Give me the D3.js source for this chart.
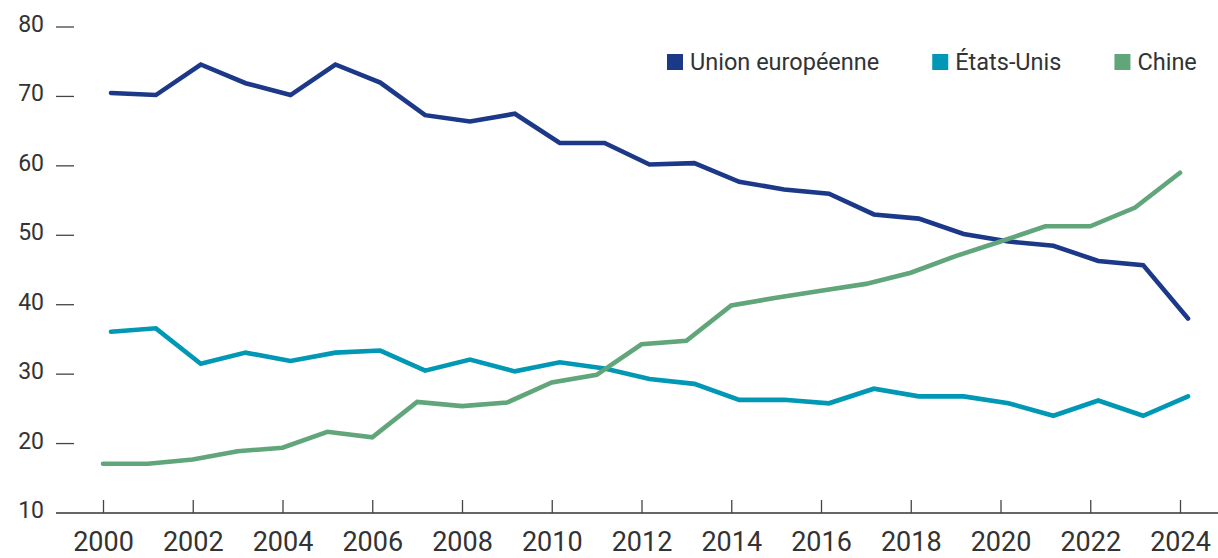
<!DOCTYPE html>
<meta charset='utf-8'>
<title>Parts de marché</title>
<style>
  body {
    margin: 0;
    background: #fff;
    font-family: Roboto, 'Noto Sans', Arial, sans-serif;
  }
  svg { display: block; }
  .line { fill: none; stroke-width: 4.6px; stroke-linejoin: miter; stroke-linecap: round; }
  .tick-label { fill: #333; }
</style>
<body>
<script src='https://cdn.jsdelivr.net/npm/d3@7'></script>
<script>

  var years = [2000, 2001, 2002, 2003, 2004, 2005, 2006, 2007, 2008, 2009, 2010, 2011, 2012,
               2013, 2014, 2015, 2016, 2017, 2018, 2019, 2020, 2021, 2022, 2023, 2024]

  var ue    = [70.5, 70.2, 74.6, 71.9, 70.2, 74.6, 72.0, 67.3, 66.4, 67.5, 63.3, 63.3, 60.2,
               60.4, 57.7, 56.6, 56.0, 53.0, 52.4, 50.2, 49.1, 48.5, 46.3, 45.7, 38.0]
  var usa   = [36.1, 36.6, 31.5, 33.1, 31.9, 33.1, 33.4, 30.5, 32.1, 30.4, 31.7, 30.8, 29.3,
               28.6, 26.3, 26.3, 25.8, 27.9, 26.8, 26.8, 25.8, 24.0, 26.2, 24.0, 26.8]
  var chine = [17.1, 17.1, 17.7, 18.9, 19.4, 21.7, 20.9, 26.0, 25.4, 25.9, 28.8, 29.9, 34.3,
               34.8, 39.9, 41.0, 42.0, 43.0, 44.6, 47.0, 49.1, 51.3, 51.3, 54.0, 59.0]

  var seriesNames  = ['Union européenne', 'États-Unis', 'Chine']
  var seriesColors = ['#1c3889', '#0098b5', '#61a57b']
  var yTicks = [10, 20, 30, 40, 50, 60, 70, 80]
  var xTicks = [2000, 2002, 2004, 2006, 2008, 2010, 2012, 2014, 2016, 2018, 2020, 2022, 2024]

  var width = 1218, height = 558

  var svg = d3.select('body').append('svg')
    .attr('width', width)
    .attr('height', height)

  var x = d3.scaleLinear().domain([2000, 2024]).range([103, 1180])
  var y = d3.scaleLinear().domain([10, 80]).range([513, 27])

  /* ------- Y AXIS -------*/
  var yAxis = svg.append('g').attr('class', 'y-axis')

  yAxis.selectAll('line')
    .data(yTicks.filter(function(d) { return d > 10 }))
    .enter().append('line')
    .attr('x1', 56).attr('x2', 74)
    .attr('y1', function(d) { return y(d) })
    .attr('y2', function(d) { return y(d) })
    .attr('stroke', '#444')
    .attr('stroke-width', 1.3)

  yAxis.selectAll('text')
    .data(yTicks)
    .enter().append('text')
    .attr('class', 'tick-label')
    .attr('x', 44)
    .attr('y', function(d) { return y(d) + 5 })
    .attr('text-anchor', 'end')
    .style('font-size', '23px')
    .text(function(d) { return d })

  /* ------- X AXIS -------*/
  var xAxis = svg.append('g')
    .attr('transform', 'translate(0,' + y(10) + ')')
    .call(d3.axisBottom(x)
      .tickValues(xTicks)
      .tickFormat(d3.format('d'))
      .tickSizeInner(-13)
      .tickSizeOuter(0)
      .tickPadding(27))

  xAxis.select('.domain').remove()
  xAxis.insert('line', ':first-child')
    .attr('x1', 56).attr('x2', width)
    .attr('stroke', '#333')
    .attr('stroke-width', 1.5)
  xAxis.selectAll('.tick line').attr('stroke', '#444').attr('stroke-width', 1.3)
  xAxis.selectAll('.tick text')
    .attr('class', 'tick-label')
    .attr('dy', '0')
    .attr('y', 38)
    .style('font-size', '27px')
    .style('font-family', 'Roboto, sans-serif')

  /* ------- LINES -------*/
  var data = [ue, usa, chine]
  // the EU and US series sit a little to the right of the year ticks in the original
  var shift = [8, 8, 0]

  var line = d3.line()
    .x(function(d, i) { return x(years[i]) })
    .y(function(d) { return y(d) })

  svg.append('g').attr('class', 'lines')
    .selectAll('path')
    .data(data)
    .enter().append('path')
    .attr('class', 'line')
    .attr('transform', function(d, i) { return 'translate(' + shift[i] + ',0)' })
    .attr('stroke', function(d, i) { return seriesColors[i] })
    .attr('d', line)

  /* ------- LEGEND -------*/
  var legend = svg.append('g').attr('class', 'legend')
  var lx = 667
  seriesNames.forEach(function(name, i) {
    var g = legend.append('g').attr('transform', 'translate(' + lx + ',0)')
    g.append('rect')
      .attr('x', 0).attr('y', 54)
      .attr('width', 16).attr('height', 16)
      .attr('fill', seriesColors[i])
    var t = g.append('text')
      .attr('x', 23).attr('y', 70)
      .attr('fill', '#333')
      .style('font-size', '23.5px')
      .text(name)
    lx += 23 + t.node().getComputedTextLength() + 53
  })

</script>
</body>
